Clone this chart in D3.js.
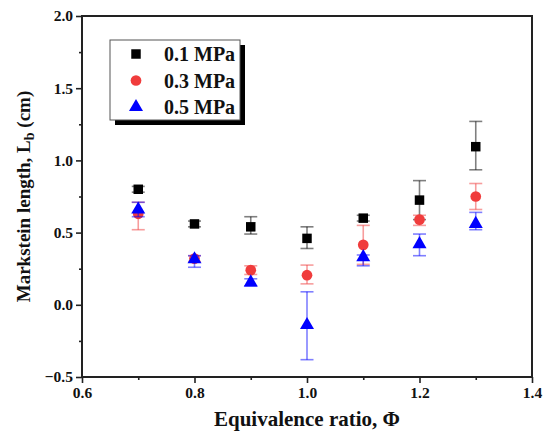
<!DOCTYPE html>
<meta charset="utf-8">
<style>

body {
  margin: 0;
  background: #fff;
}

text {
  font-family: "Liberation Serif", "Times New Roman", serif;
  font-weight: bold;
}

</style>
<svg></svg>
<script src="https://cdn.jsdelivr.net/npm/d3@7"></script>
<script>

var width = 546,
    height = 432;

var margin = {top: 16, right: 14, bottom: 55, left: 82};

// equivalence ratio
var phi = [0.7, 0.8, 0.9, 1.0, 1.1, 1.2, 1.3];

// Markstein length (cm), with error bar low / high
var lb01 = [0.80, 0.56, 0.54, 0.46, 0.60, 0.725, 1.095],
    lo01 = [0.78, 0.54, 0.49, 0.39, 0.58, 0.59, 0.935],
    hi01 = [0.82, 0.58, 0.61, 0.54, 0.62, 0.86, 1.27];

var lb03 = [0.63, 0.32, 0.24, 0.205, 0.415, 0.59, 0.75],
    lo03 = [0.52, 0.30, 0.21, 0.145, 0.28, 0.55, 0.66],
    hi03 = [0.71, 0.34, 0.27, 0.275, 0.55, 0.62, 0.84];

var lb05 = [0.66, 0.315, 0.155, -0.14, 0.33, 0.42, 0.56],
    lo05 = [0.61, 0.26, 0.13, -0.38, 0.27, 0.34, 0.52],
    hi05 = [0.71, 0.34, 0.18, 0.09, 0.345, 0.49, 0.64];

var seriesNames = ["0.1 MPa", "0.3 MPa", "0.5 MPa"];

var xTicks = [0.6, 0.8, 1.0, 1.2, 1.4],
    yTicks = [-0.5, 0.0, 0.5, 1.0, 1.5, 2.0];

var series = [
  {name: seriesNames[0], y: lb01, lo: lo01, hi: hi01, color: "#000000", shape: d3.symbolSquare, size: 90},
  {name: seriesNames[1], y: lb03, lo: lo03, hi: hi03, color: "#f03c3c", shape: d3.symbolCircle, size: 90},
  {name: seriesNames[2], y: lb05, lo: lo05, hi: hi05, color: "#0000ff", shape: d3.symbolTriangle, size: 85}
];

var svg = d3.select("svg")
    .attr("width", width)
    .attr("height", height);

var x = d3.scaleLinear()
    .domain([0.6, 1.4])
    .range([margin.left, width - margin.right]);

var y = d3.scaleLinear()
    .domain([-0.5, 2.0])
    .range([height - margin.bottom, margin.top]);

// frame
svg.append("rect")
    .attr("x", x(0.6))
    .attr("y", y(2.0))
    .attr("width", x(1.4) - x(0.6))
    .attr("height", y(-0.5) - y(2.0))
    .attr("fill", "none")
    .attr("stroke", "#222")
    .attr("stroke-width", 2);

svg.append("g")
    .attr("transform", "translate(0," + y(-0.5) + ")")
    .call(d3.axisBottom(x).tickValues(xTicks).tickFormat(d3.format(".1f")).tickSize(6).tickPadding(4));

svg.append("g")
    .attr("transform", "translate(0," + y(-0.5) + ")")
    .call(d3.axisBottom(x).tickValues([0.7, 0.9, 1.1, 1.3]).tickFormat("").tickSize(3));

svg.append("g")
    .attr("transform", "translate(" + x(0.6) + ",0)")
    .call(d3.axisLeft(y).tickValues(yTicks).tickFormat(d3.format(".1f")).tickSize(6).tickPadding(3));

svg.append("g")
    .attr("transform", "translate(" + x(0.6) + ",0)")
    .call(d3.axisLeft(y).tickValues([-0.25, 0.25, 0.75, 1.25, 1.75]).tickFormat("").tickSize(3));

svg.selectAll(".domain").remove();
svg.selectAll(".tick line").attr("stroke", "#222").attr("stroke-width", 1.6);
svg.selectAll(".tick text")
    .attr("fill", "#111")
    .style("font-size", "15.5px")
    .style("font-family", "'Liberation Serif', 'Times New Roman', serif")
    .style("font-weight", "bold");

// error bars and markers
series.forEach(function(s) {
  var g = svg.append("g");
  var idx = d3.range(phi.length);

  g.selectAll("line.bar")
      .data(idx)
    .enter().append("line")
      .attr("x1", function(i) { return x(phi[i]); })
      .attr("x2", function(i) { return x(phi[i]); })
      .attr("y1", function(i) { return y(s.lo[i]); })
      .attr("y2", function(i) { return y(s.hi[i]); })
      .attr("stroke", s.color)
      .attr("stroke-opacity", 0.5)
      .attr("stroke-width", 1.6);

  [s.lo, s.hi].forEach(function(v) {
    g.selectAll(null)
        .data(idx)
      .enter().append("line")
        .attr("x1", function(i) { return x(phi[i]) - 6.5; })
        .attr("x2", function(i) { return x(phi[i]) + 6.5; })
        .attr("y1", function(i) { return y(v[i]); })
        .attr("y2", function(i) { return y(v[i]); })
        .attr("stroke", s.color)
        .attr("stroke-opacity", 0.5)
        .attr("stroke-width", 1.6);
  });

  g.selectAll("path")
      .data(idx)
    .enter().append("path")
      .attr("transform", function(i) { return "translate(" + x(phi[i]) + "," + y(s.y[i]) + ")"; })
      .attr("d", d3.symbol().type(s.shape).size(s.size))
      .attr("fill", s.color);
});

// legend
var lg = svg.append("g").attr("transform", "translate(110,40)");

lg.append("rect")
    .attr("x", 5).attr("y", 5)
    .attr("width", 130).attr("height", 80)
    .attr("fill", "#000");

lg.append("rect")
    .attr("width", 130).attr("height", 80)
    .attr("fill", "#fff")
    .attr("stroke", "#555")
    .attr("stroke-width", 1);

series.forEach(function(s, i) {
  var ry = 14 + i * 26.5;
  lg.append("path")
      .attr("transform", "translate(26," + ry + ")")
      .attr("d", d3.symbol().type(s.shape).size(s.size))
      .attr("fill", s.color);
  lg.append("text")
      .attr("x", 54)
      .attr("y", ry + 7)
      .style("font-size", "20px")
      .attr("fill", "#111")
      .text(s.name);
});

// axis titles
svg.append("text")
    .attr("x", x(1.0))
    .attr("y", 426)
    .attr("text-anchor", "middle")
    .style("font-size", "21px")
    .attr("fill", "#111")
    .text("Equivalence ratio, \u03A6");

var yt = svg.append("text")
    .attr("transform", "translate(30," + y(0.75) + ") rotate(-90)")
    .attr("text-anchor", "middle")
    .style("font-size", "19px")
    .attr("fill", "#111");
yt.append("tspan").text("Markstein length, L");
yt.append("tspan").attr("dy", 4).style("font-size", "14px").text("b");
yt.append("tspan").attr("dy", -4).text(" (cm)");

</script>
